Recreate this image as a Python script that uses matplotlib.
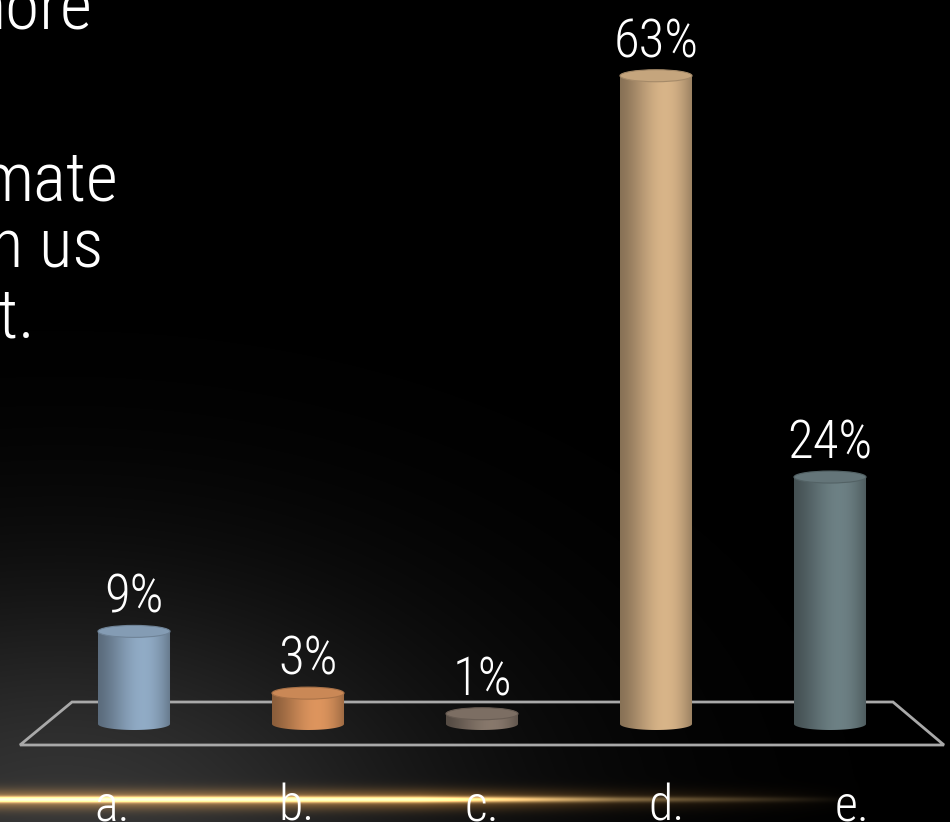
import numpy as np
import matplotlib
matplotlib.use('Agg')
import matplotlib.pyplot as plt
from matplotlib.patches import Ellipse, Polygon, PathPatch
from matplotlib.path import Path

categories = ['a.', 'b.', 'c.', 'd.', 'e.']
values = [9, 3, 1, 63, 24]
value_labels = ['9%', '3%', '1%', '63%', '24%']
bar_colors = ['#8ea8c2', '#d9925c', '#85766a', '#d4b186', '#6b7e82']
# slide text partly hidden behind the chart (right end px, baseline px)
side_text = ['more', 'mate', 'n us', 'st.']
side_pos = [(92, 30), (118, 200), (103, 267), (35, 337)]

FONT = ['Roboto Condensed', 'Liberation Sans Narrow', 'Roboto', 'DejaVu Sans']

W, H = 950, 822
fig = plt.figure(figsize=(9.5, 8.22), dpi=100)
fig.patch.set_facecolor('black')

# pixel axes for the backdrop
bg = fig.add_axes([0, 0, 1, 1])
xx, yy = np.meshgrid(np.arange(W), np.arange(H))
glow = 0.21 * np.exp(-(((xx - 60) / 400.0) ** 2 + ((yy - 830) / 250.0) ** 2))
img = np.dstack([glow, glow, glow])
fade = np.interp(xx, [0, 420, 620, 860], [1, 1, 0.35, 0])
dy = yy - 799
core = np.exp(-(dy / 2.8) ** 2) * fade
halo = np.exp(-(dy / 10.0) ** 2) * fade
img = img + core[..., None] * np.array([1.0, 0.86, 0.58]) \
    + 0.55 * halo[..., None] * np.array([0.8, 0.52, 0.18])
img = np.clip(img, 0, 1)
bg.imshow(img, extent=(0, W, H, 0), aspect='auto', zorder=0)
bg.set_xlim(0, W)
bg.set_ylim(H, 0)
bg.axis('off')

# floor
floor = Polygon([(20, 745), (72, 702), (893, 702), (944, 745)], closed=True,
                fill=False, ec='#a9a9a9', lw=2, zorder=1)
bg.add_patch(floor)

for s, (px, py) in zip(side_text, side_pos):
    bg.text(px, py, s, ha='right', va='baseline', color='white', fontsize=50,
            family=FONT, fontweight='light', zorder=2)

for i, c in enumerate(categories):
    bg.text(112 + i * 185, 820, c, ha='center', va='baseline', color='white',
            fontsize=36, family=FONT, fontweight='light', zorder=3)

# bar axes: x = category index, y = percent (10.29 px per percent, base at 724 px)
ppp = 10.29
ax = fig.add_axes([47 / W, (H - 724 - ppp) / H, 870 / W, 71 * ppp / H])
ax.patch.set_alpha(0)
ax.axis('off')

bw = 0.414          # cylinder width in category units
eh = 12 / ppp       # ellipse height in percent units
t = np.linspace(0, 1, 120)
shade = 0.64 + 0.33 * np.sin(np.pi * t ** 1.36) + 0.08 * t

for i, (v, col) in enumerate(zip(values, bar_colors)):
    base = np.array(matplotlib.colors.to_rgb(col))
    grad = np.clip(shade[None, :, None] * base[None, None, :], 0, 1)
    x0, x1 = i - bw / 2, i + bw / 2
    th = np.linspace(np.pi, 2 * np.pi, 40)
    arc = np.column_stack([i + bw / 2 * np.cos(th), eh / 2 * np.sin(th)])
    verts = np.vstack([[(x0, v)], arc, [(x1, v)], [(x0, v)]])
    codes = [Path.MOVETO] + [Path.LINETO] * (len(verts) - 2) + [Path.CLOSEPOLY]
    clip = PathPatch(Path(verts, codes), fc='none', ec='none')
    ax.add_patch(clip)
    im = ax.imshow(grad, extent=(x0, x1, -eh / 2, v), aspect='auto', zorder=3)
    im.set_clip_path(clip)
    top = Ellipse((i, v), bw, eh, fc=np.clip(base * 0.93, 0, 1),
                  ec=np.clip(base * 0.78, 0, 1), lw=0.8, zorder=4)
    ax.add_patch(top)
    ax.annotate(value_labels[i], (i, v + eh / 2), xytext=(0, 9),
                textcoords='offset points', ha='center', va='baseline',
                color='white', fontsize=38, family=FONT, fontweight='light',
                zorder=5)

ax.set_xlim(-0.5, 4.5)
ax.set_ylim(-1, 70)

fig.savefig('out.png', dpi=100, facecolor='black')
